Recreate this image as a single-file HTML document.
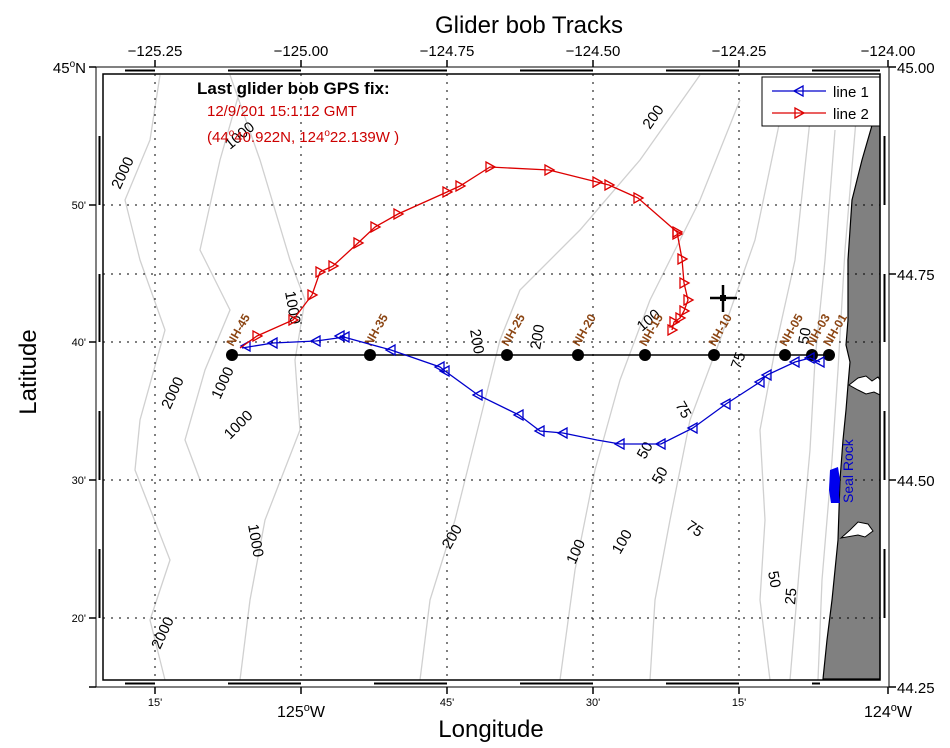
<!DOCTYPE html>
<html><head><meta charset="utf-8"><style>
html,body{margin:0;padding:0;background:#fff;}
svg{display:block;font-family:"Liberation Sans",sans-serif;}
</style></head><body>
<svg width="950" height="748" viewBox="0 0 950 748" xmlns="http://www.w3.org/2000/svg">
<defs>
<path id="tl" d="M-5,0 L4,-5 L4,5 Z" fill="none" stroke="#0000cc" stroke-width="1.3"/>
<path id="tr" d="M5,0 L-4,-5 L-4,5 Z" fill="none" stroke="#dd0000" stroke-width="1.3"/>
</defs>
<rect width="950" height="748" fill="#fff"/>
<g fill="none" stroke="#d0d0d0" stroke-width="1.3">
<path d="M160,75 L150,140 L125,200 L140,260 L165,330 L140,420 L135,470 L170,560 L150,620 L165,680"/>
<path d="M230,75 L260,160 L290,260 L305,300 L295,360 L300,430 L265,520 L250,600 L240,680"/>
<path d="M240,90 L220,160 L200,250 L230,310 L205,370 L185,440 L200,480"/>
<path d="M700,75 L640,160 L580,230 L520,290 L500,340 L480,420 L455,520 L430,600 L420,680"/>
<path d="M740,100 L700,200 L650,300 L620,380 L595,470 L575,570 L560,680"/>
<path d="M780,120 L755,240 L720,340 L690,420 L670,520 L655,600 L650,680"/>
<path d="M810,120 L795,260 L775,350 L760,430 L765,520 L760,600 L770,680"/>
<path d="M835,130 L825,260 L815,360 L810,450 L800,560 L790,680"/>
<path d="M856,120 L845,250 L838,370 L832,460 L822,580 L818,680"/>
</g>
<!-- land -->
<path d="M880,100 L875,115 L862,160 L852,200 L848,260 L848,320 L846,345 L850,362 L848,385 L846,410 L843,440 L840,480 L838,540 L832,600 L827,640 L823,679 L880,679 Z" fill="#808080" stroke="#000" stroke-width="1.2"/>
<path d="M849,385 L858,378 L866,376 L872,381 L878,377 L880,380 L880,395 L874,392 L866,394 L858,390 Z" fill="#fff" stroke="#000" stroke-width="1"/>
<path d="M841,538 L850,530 L858,522 L868,524 L873,531 L865,537 L858,535 Z" fill="#fff" stroke="#000" stroke-width="1"/>
<g stroke="#000" stroke-width="1" stroke-dasharray="2,6">
<line x1="155" y1="74" x2="155" y2="680"/><line x1="301" y1="74" x2="301" y2="680"/>
<line x1="447" y1="74" x2="447" y2="680"/><line x1="593" y1="74" x2="593" y2="680"/>
<line x1="739" y1="74" x2="739" y2="680"/>
<line x1="103" y1="205" x2="880" y2="205"/><line x1="103" y1="274" x2="880" y2="274"/>
<line x1="103" y1="342" x2="880" y2="342"/><line x1="103" y1="480" x2="880" y2="480"/>
<line x1="103" y1="618" x2="880" y2="618"/>
</g>
<g font-size="15" fill="#000">
<text transform="translate(120,190) rotate(-65)">2000</text>
<text transform="translate(170,410) rotate(-65)">2000</text>
<text transform="translate(160,650) rotate(-65)">2000</text>
<text transform="translate(230,150) rotate(-40)">1000</text>
<text transform="translate(285,292) rotate(80)">1000</text>
<text transform="translate(220,400) rotate(-65)">1000</text>
<text transform="translate(230,440) rotate(-45)">1000</text>
<text transform="translate(248,525) rotate(80)">1000</text>
<text transform="translate(470,330) rotate(80)">200</text>
<text transform="translate(540,350) rotate(-80)">200</text>
<text transform="translate(650,130) rotate(-55)">200</text>
<text transform="translate(450,550) rotate(-60)">200</text>
<text transform="translate(575,565) rotate(-65)">100</text>
<text transform="translate(620,555) rotate(-60)">100</text>
<text transform="translate(642,332) rotate(-40)">100</text>
<text transform="translate(675,405) rotate(60)">75</text>
<text transform="translate(685,528) rotate(35)">75</text>
<text transform="translate(740,370) rotate(-70)">75</text>
<text transform="translate(645,460) rotate(-60)">50</text>
<text transform="translate(660,485) rotate(-60)">50</text>
<text transform="translate(768,572) rotate(80)">50</text>
<text transform="translate(808,345) rotate(-80)">50</text>
<text transform="translate(795,605) rotate(-85)">25</text>
</g>
<line x1="232" y1="355" x2="829" y2="355" stroke="#000" stroke-width="1.5"/>
<g fill="#000">
<circle cx="232" cy="355" r="6"/><circle cx="370" cy="355" r="6"/><circle cx="507" cy="355" r="6"/>
<circle cx="578" cy="355" r="6"/><circle cx="645" cy="355" r="6"/><circle cx="714" cy="355" r="6"/>
<circle cx="785" cy="355" r="6"/><circle cx="812" cy="355" r="6"/><circle cx="829" cy="355" r="6"/>
</g>
<g font-size="12" font-weight="bold" fill="#8b4513">
<text transform="translate(233,347) rotate(-60)">NH-45</text>
<text transform="translate(371,347) rotate(-60)">NH-35</text>
<text transform="translate(508,347) rotate(-60)">NH-25</text>
<text transform="translate(579,347) rotate(-60)">NH-20</text>
<text transform="translate(646,347) rotate(-60)">NH-15</text>
<text transform="translate(715,347) rotate(-60)">NH-10</text>
<text transform="translate(786,347) rotate(-60)">NH-05</text>
<text transform="translate(813,347) rotate(-60)">NH-03</text>
<text transform="translate(830,347) rotate(-60)">NH-01</text>
</g>
<polyline fill="none" stroke="#0000cc" stroke-width="1.3" points="242,348 273,343 316,341 345,337 340,336 391,350 440,367 445,371 478,395 519,415 540,431 563,433 597,440 620,444 661,444 693,428 726,404 760,382 767,375 795,362 810,358 820,362"/>
<g>
<use href="#tl" x="246" y="346"/><use href="#tl" x="273" y="343"/><use href="#tl" x="316" y="341"/><use href="#tl" x="345" y="337"/><use href="#tl" x="340" y="336"/><use href="#tl" x="391" y="350"/><use href="#tl" x="440" y="367"/><use href="#tl" x="445" y="371"/><use href="#tl" x="478" y="395"/><use href="#tl" x="519" y="415"/><use href="#tl" x="540" y="431"/><use href="#tl" x="563" y="433"/><use href="#tl" x="620" y="444"/><use href="#tl" x="661" y="444"/><use href="#tl" x="693" y="428"/><use href="#tl" x="726" y="404"/><use href="#tl" x="760" y="382"/><use href="#tl" x="767" y="375"/><use href="#tl" x="795" y="362"/><use href="#tl" x="810" y="358"/><use href="#tl" x="820" y="362"/>
</g>
<polyline fill="none" stroke="#dd0000" stroke-width="1.3" points="240,348 257,336 293,320 312,295 320,272 333,266 358,243 375,227 398,214 447,192 460,186 490,167 549,170 597,182 609,185 638,198 677,232 682,259 684,283 688,300 684,311 680,318 674,322 672,330"/>
<g>
<use href="#tr" x="257" y="336"/><use href="#tr" x="293" y="320"/><use href="#tr" x="312" y="295"/><use href="#tr" x="320" y="272"/><use href="#tr" x="333" y="266"/><use href="#tr" x="358" y="243"/><use href="#tr" x="375" y="227"/><use href="#tr" x="398" y="214"/><use href="#tr" x="447" y="192"/><use href="#tr" x="460" y="186"/><use href="#tr" x="490" y="167"/><use href="#tr" x="549" y="170"/><use href="#tr" x="597" y="182"/><use href="#tr" x="609" y="185"/><use href="#tr" x="638" y="198"/><use href="#tr" x="677" y="232"/><use href="#tr" x="677" y="234"/><use href="#tr" x="682" y="259"/><use href="#tr" x="684" y="283"/><use href="#tr" x="688" y="300"/><use href="#tr" x="684" y="311"/><use href="#tr" x="680" y="318"/><use href="#tr" x="674" y="322"/><use href="#tr" x="672" y="330"/>
</g>
<g stroke="#000" stroke-width="2.5"><line x1="710" y1="298" x2="737" y2="298"/><line x1="723" y1="285" x2="723" y2="312"/></g>
<rect x="720" y="295" width="6" height="6" fill="#000"/>
<path d="M830,470 L838,467 L840,480 L839,495 L840,503 L831,503 L829,490 Z" fill="#0000ee"/>
<text transform="translate(853,503) rotate(-90)" font-size="14" fill="#0000cc">Seal Rock</text>
<text x="197" y="94" font-size="17" font-weight="bold">Last glider bob GPS fix:</text>
<text x="207" y="116" font-size="15" fill="#cc0000">12/9/201 15:1:12 GMT</text>
<text x="207" y="142" font-size="15" fill="#cc0000">(44<tspan dy="-6" font-size="10">o</tspan><tspan dy="6">40.922N, 124</tspan><tspan dy="-6" font-size="10">o</tspan><tspan dy="6">22.139W )</tspan></text>
<rect x="762" y="77" width="118" height="49" fill="#fff" stroke="#000" stroke-width="1"/>
<line x1="772" y1="91" x2="826" y2="91" stroke="#0000cc" stroke-width="1.3"/><use href="#tl" x="799" y="91"/>
<text x="833" y="97" font-size="15">line 1</text>
<line x1="772" y1="113" x2="826" y2="113" stroke="#dd0000" stroke-width="1.3"/><use href="#tr" x="799" y="113"/>
<text x="833" y="119" font-size="15">line 2</text>
<g fill="none" stroke="#000">
<rect x="96" y="67" width="793" height="620" stroke-width="1"/>
<rect x="103" y="74" width="777" height="606" stroke-width="1.5"/>
<line x1="125" y1="70.5" x2="155" y2="70.5" stroke-width="2"/><line x1="228" y1="70.5" x2="301" y2="70.5" stroke-width="2"/>
<line x1="374" y1="70.5" x2="447" y2="70.5" stroke-width="2"/><line x1="520" y1="70.5" x2="593" y2="70.5" stroke-width="2"/>
<line x1="666" y1="70.5" x2="739" y2="70.5" stroke-width="2"/><line x1="812" y1="70.5" x2="880" y2="70.5" stroke-width="2"/>
<line x1="125" y1="683.5" x2="155" y2="683.5" stroke-width="2"/><line x1="228" y1="683.5" x2="301" y2="683.5" stroke-width="2"/>
<line x1="374" y1="683.5" x2="447" y2="683.5" stroke-width="2"/><line x1="520" y1="683.5" x2="593" y2="683.5" stroke-width="2"/>
<line x1="666" y1="683.5" x2="739" y2="683.5" stroke-width="2"/><line x1="812" y1="683.5" x2="820" y2="683.5" stroke-width="2"/>
<line x1="99.5" y1="136" x2="99.5" y2="205" stroke-width="2"/><line x1="99.5" y1="274" x2="99.5" y2="342" stroke-width="2"/>
<line x1="99.5" y1="411" x2="99.5" y2="480" stroke-width="2"/><line x1="99.5" y1="549" x2="99.5" y2="618" stroke-width="2"/>
<line x1="884.5" y1="136" x2="884.5" y2="205" stroke-width="2"/><line x1="884.5" y1="274" x2="884.5" y2="342" stroke-width="2"/>
<line x1="884.5" y1="411" x2="884.5" y2="480" stroke-width="2"/><line x1="884.5" y1="549" x2="884.5" y2="618" stroke-width="2"/>
</g>
<g stroke="#000" stroke-width="1.5">
<line x1="155" y1="60" x2="155" y2="67"/><line x1="301" y1="60" x2="301" y2="67"/><line x1="447" y1="60" x2="447" y2="67"/>
<line x1="593" y1="60" x2="593" y2="67"/><line x1="739" y1="60" x2="739" y2="67"/><line x1="888" y1="60" x2="888" y2="67"/>
<line x1="155" y1="687" x2="155" y2="694"/><line x1="301" y1="687" x2="301" y2="694"/><line x1="447" y1="687" x2="447" y2="694"/>
<line x1="593" y1="687" x2="593" y2="694"/><line x1="739" y1="687" x2="739" y2="694"/><line x1="888" y1="687" x2="888" y2="694"/>
<line x1="89" y1="67" x2="96" y2="67"/><line x1="89" y1="205" x2="96" y2="205"/><line x1="89" y1="342" x2="96" y2="342"/><line x1="89" y1="480" x2="96" y2="480"/><line x1="89" y1="618" x2="96" y2="618"/><line x1="89" y1="687" x2="96" y2="687"/>
<line x1="889" y1="67" x2="896" y2="67"/><line x1="889" y1="274" x2="896" y2="274"/><line x1="889" y1="480" x2="896" y2="480"/><line x1="889" y1="687" x2="896" y2="687"/>
</g>
<g font-size="15" fill="#000">
<text x="155" y="56" text-anchor="middle">−125.25</text><text x="301" y="56" text-anchor="middle">−125.00</text>
<text x="447" y="56" text-anchor="middle">−124.75</text><text x="593" y="56" text-anchor="middle">−124.50</text>
<text x="739" y="56" text-anchor="middle">−124.25</text><text x="888" y="56" text-anchor="middle">−124.00</text>
<text x="897" y="73">45.00</text><text x="897" y="280">44.75</text><text x="897" y="486">44.50</text><text x="897" y="693">44.25</text>
<text x="86" y="73" text-anchor="end">45<tspan dy="-6" font-size="10">o</tspan><tspan dy="6">N</tspan></text>
</g>
<g font-size="11" fill="#000">
<text x="86" y="209" text-anchor="end">50'</text><text x="86" y="346" text-anchor="end">40'</text>
<text x="86" y="484" text-anchor="end">30'</text><text x="86" y="622" text-anchor="end">20'</text>
<text x="155" y="706" text-anchor="middle">15'</text><text x="447" y="706" text-anchor="middle">45'</text>
<text x="593" y="706" text-anchor="middle">30'</text><text x="739" y="706" text-anchor="middle">15'</text>
</g>
<g font-size="16" fill="#000">
<text x="301" y="717" text-anchor="middle">125<tspan dy="-6" font-size="11">o</tspan><tspan dy="6">W</tspan></text>
<text x="888" y="717" text-anchor="middle">124<tspan dy="-6" font-size="11">o</tspan><tspan dy="6">W</tspan></text>
</g>
<text x="529" y="33" font-size="24" text-anchor="middle">Glider bob Tracks</text>
<text x="491" y="737" font-size="24" text-anchor="middle">Longitude</text>
<text transform="translate(36,372) rotate(-90)" font-size="24" text-anchor="middle">Latitude</text>
</svg>
</body></html>
